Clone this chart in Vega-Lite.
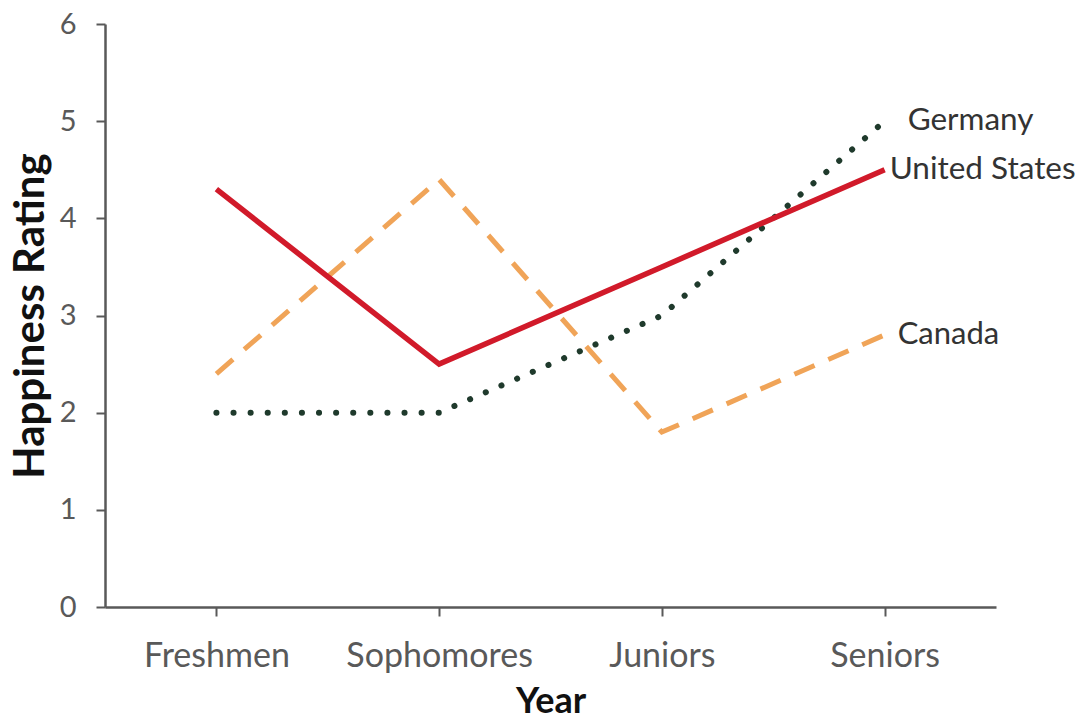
{
  "$schema": "https://vega.github.io/schema/vega-lite/v6.json",
  "autosize": "none",
  "width": 891,
  "height": 583,
  "padding": {"left": 105, "top": 24, "right": 93, "bottom": 114},
  "background": "white",
  "config": {
    "view": {"stroke": null},
    "font": "Lato",
    "axis": {
      "labelFont": "Lato",
      "titleFont": "Lato",
      "labelColor": "#595959",
      "titleColor": "#111111",
      "titleFontWeight": "bold",
      "domainColor": "#595959",
      "domainWidth": 2.5,
      "tickColor": "#595959",
      "tickWidth": 2,
      "tickSize": 9,
      "grid": false,
      "labelLimit": 400,
      "titleLimit": 600
    }
  },
  "data": {
    "values": [
      {"year": "Freshmen", "country": "United States", "rating": 4.3},
      {"year": "Sophomores", "country": "United States", "rating": 2.5},
      {"year": "Juniors", "country": "United States", "rating": 3.5},
      {"year": "Seniors", "country": "United States", "rating": 4.5},
      {"year": "Freshmen", "country": "Germany", "rating": 2.0},
      {"year": "Sophomores", "country": "Germany", "rating": 2.0},
      {"year": "Juniors", "country": "Germany", "rating": 3.0},
      {"year": "Seniors", "country": "Germany", "rating": 5.0},
      {"year": "Freshmen", "country": "Canada", "rating": 2.4},
      {"year": "Sophomores", "country": "Canada", "rating": 4.4},
      {"year": "Juniors", "country": "Canada", "rating": 1.8},
      {"year": "Seniors", "country": "Canada", "rating": 2.8}
    ]
  },
  "encoding": {
    "x": {
      "field": "year",
      "type": "nominal",
      "sort": ["Freshmen", "Sophomores", "Juniors", "Seniors"],
      "scale": {"type": "point", "padding": 0.5},
      "axis": {
        "title": "Year",
        "labelAngle": 0,
        "labelFontSize": 34,
        "labelPadding": 23,
        "titleFontSize": 36,
        "titleY": 77,
        "titleBaseline": "top"
      }
    },
    "y": {
      "field": "rating",
      "type": "quantitative",
      "scale": {"domain": [0, 6], "nice": false, "zero": true},
      "axis": {
        "title": "Happiness Rating",
        "values": [0, 1, 2, 3, 4, 5, 6],
        "labelFontSize": 29,
        "labelPadding": 20,
        "titleFontSize": 42,
        "titleBaseline": "alphabetic",
        "titleX": -62
      }
    }
  },
  "layer": [
    {
      "transform": [{"filter": "datum.country === 'Canada'"}],
      "mark": {"type": "line", "color": "#F0A458", "strokeWidth": 5, "strokeDash": [22, 15]}
    },
    {
      "transform": [{"filter": "datum.country === 'Germany'"}],
      "mark": {"type": "line", "color": "#1F3A2C", "strokeWidth": 6, "strokeCap": "round", "strokeDash": [0.1, 17]}
    },
    {
      "transform": [{"filter": "datum.country === 'United States'"}],
      "mark": {"type": "line", "color": "#D11A2A", "strokeWidth": 5.5}
    },
    {
      "transform": [{"filter": "datum.year === 'Seniors' && datum.country === 'Germany'"}],
      "mark": {"type": "text", "align": "left", "baseline": "middle", "dx": 23, "fontSize": 31.5, "color": "#333333", "font": "Lato"},
      "encoding": {"text": {"field": "country"}}
    },
    {
      "transform": [{"filter": "datum.year === 'Seniors' && datum.country === 'United States'"}],
      "mark": {"type": "text", "align": "left", "baseline": "middle", "dx": 5, "fontSize": 31.5, "color": "#333333", "font": "Lato"},
      "encoding": {"text": {"field": "country"}}
    },
    {
      "transform": [{"filter": "datum.year === 'Seniors' && datum.country === 'Canada'"}],
      "mark": {"type": "text", "align": "left", "baseline": "middle", "dx": 13, "fontSize": 31, "color": "#333333", "font": "Lato"},
      "encoding": {"text": {"field": "country"}}
    }
  ]
}
